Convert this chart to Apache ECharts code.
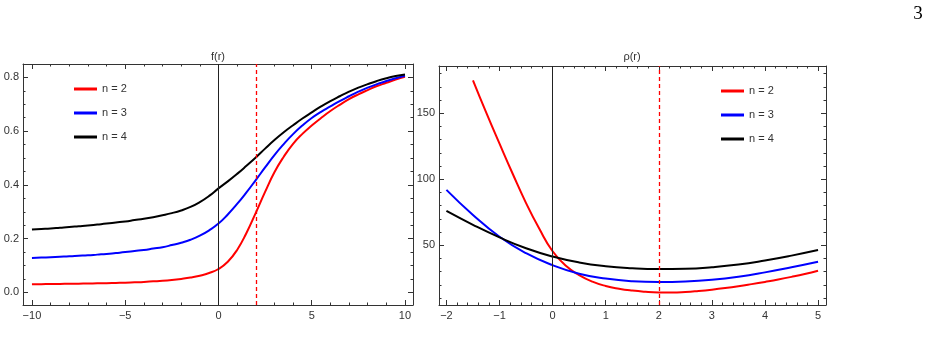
<!DOCTYPE html>
<html>
<head>
<meta charset="utf-8">
<script src="https://cdn.jsdelivr.net/npm/echarts@6/dist/echarts.min.js"></script>
<style>
  html, body { margin: 0; padding: 0; background: #fff; }
  #main { width: 930px; height: 341px; }
</style>
</head>
<body>
<div id="main"></div>
<script>
// left panel: f(r)
const fR = [-10, -9.5, -9, -8.5, -8, -7.5, -7, -6.5, -6, -5.5, -5, -4.5, -4, -3.5, -3, -2.5, -2, -1.5, -1, -0.5,
  0, 0.5, 1, 1.5, 2, 2.5, 3, 3.5, 4, 4.5, 5, 5.5, 6, 6.5, 7, 7.5, 8, 8.5, 9, 9.5, 10];
const fN2 = [0.030, 0.0305, 0.031, 0.0315, 0.032, 0.0325, 0.033, 0.0335, 0.034, 0.035, 0.036, 0.0375, 0.039, 0.041, 0.043, 0.046, 0.050, 0.055, 0.062, 0.072,
  0.087, 0.114, 0.158, 0.221, 0.296, 0.374, 0.447, 0.505, 0.553, 0.590, 0.621, 0.649, 0.675, 0.698, 0.719, 0.737, 0.753, 0.768, 0.780, 0.792, 0.802];
const fN3 = [0.128, 0.1295, 0.131, 0.1325, 0.134, 0.136, 0.138, 0.1405, 0.143, 0.1465, 0.150, 0.154, 0.158, 0.163, 0.168, 0.176, 0.185, 0.196, 0.211, 0.231,
  0.256, 0.290, 0.329, 0.372, 0.418, 0.465, 0.511, 0.552, 0.589, 0.621, 0.649, 0.672, 0.692, 0.712, 0.730, 0.747, 0.762, 0.775, 0.787, 0.797, 0.806];
const fN4 = [0.234, 0.236, 0.238, 0.2405, 0.243, 0.246, 0.249, 0.2525, 0.256, 0.260, 0.264, 0.269, 0.274, 0.280, 0.287, 0.295, 0.305, 0.318, 0.336, 0.359,
  0.387, 0.413, 0.441, 0.471, 0.502, 0.535, 0.567, 0.596, 0.622, 0.647, 0.670, 0.692, 0.712, 0.730, 0.747, 0.762, 0.775, 0.787, 0.797, 0.805, 0.811];

// right panel: rho(r)
const rhoR2 = [-1.5, -1.25, -1, -0.75, -0.5, -0.25, 0, 0.25, 0.5, 0.75, 1, 1.25, 1.5, 1.75, 2, 2.25, 2.5, 2.75, 3, 3.25, 3.5, 3.75, 4, 4.25, 4.5, 4.75, 5];
const rhoN2 = [175, 150.5, 127, 104, 82, 62.5, 45.5, 34.5, 27.5, 22.5, 19.2, 17.1, 15.7, 14.8, 14.3, 14.2, 14.6, 15.4, 16.4, 17.6, 19.0, 20.6, 22.3, 24.1, 26.1, 28.3, 30.8];
const rhoR = [-2, -1.5, -1, -0.5, 0, 0.5, 1, 1.5, 2, 2.5, 3, 3.5, 4, 4.5, 5];
const rhoN3 = [92, 73, 56.5, 44, 35, 28.5, 24.8, 22.8, 22.2, 22.6, 23.9, 26.2, 29.5, 33.4, 37.6];
const rhoN4 = [76, 65.5, 56, 47.8, 41.5, 37.0, 34.2, 32.7, 32.1, 32.3, 33.4, 35.4, 38.5, 42.2, 46.4];

const names = ["n = 2", "n = 3", "n = 4"];
const colors = ["#ff0000", "#0000ff", "#000000"];

// tick labels
const fXTicks = [-10, -5, 0, 5, 10];
const fYTicks = [0, 0.2, 0.4, 0.6, 0.8];
const rhoXTicks = [-2, -1, 0, 1, 2, 3, 4, 5];
const rhoYTicks = [50, 100, 150];

const vLine = 0;
const dashLine = 2;

function steps(a, b, s) {
  const out = [];
  for (let v = a; v <= b + 1e-9; v += s) out.push(+v.toFixed(4));
  return out;
}

const frameColor = "#333";
const labelStyle = { fontSize: 11, color: "#333", fontFamily: "Liberation Sans" };
const minus = (v) => String(v).replace("-", "\u2212");

function makeAxes(dim, grid, min, max, major, minor, fmt) {
  const sides = dim === "x" ? ["bottom", "top"] : ["left", "right"];
  const axes = [];
  sides.forEach((pos, s) => {
    axes.push({
      type: "value", gridIndex: grid, position: pos, min: min, max: max,
      axisLine: { show: true, onZero: false, lineStyle: { color: frameColor, width: 1 } },
      axisTick: { show: true, inside: true, length: 5, customValues: major, lineStyle: { color: frameColor } },
      axisLabel: s === 0
        ? Object.assign({ show: true, customValues: major, formatter: fmt, margin: dim === "x" ? 5 : 4 }, labelStyle)
        : { show: false },
      splitLine: { show: false }
    });
    axes.push({
      type: "value", gridIndex: grid, position: pos, min: min, max: max,
      axisLine: { show: false, onZero: false },
      axisTick: { show: true, inside: true, length: 2.5, customValues: minor, lineStyle: { color: frameColor } },
      axisLabel: { show: false },
      splitLine: { show: false }
    });
  });
  return axes;
}

const xAxes = [].concat(
  makeAxes("x", 0, -10.48, 10.43, fXTicks, steps(-10, 10, 1), minus),
  makeAxes("x", 1, -2.14, 5.15, rhoXTicks, steps(-2, 5, 0.2), minus)
);
const yAxes = [].concat(
  makeAxes("y", 0, -0.047, 0.85, fYTicks, steps(0, 0.8, 0.05), (v) => v.toFixed(1)),
  makeAxes("y", 1, 4.8, 185.8, rhoYTicks, steps(10, 180, 10), (v) => String(v))
);

function line(name, color, xs, ys, axis, withMarks) {
  const s = {
    name: name, type: "line", xAxisIndex: axis, yAxisIndex: axis,
    data: xs.map((x, i) => [x, ys[i]]),
    showSymbol: false, smooth: 0.5,
    lineStyle: { color: color, width: 2 }, itemStyle: { color: color }
  };
  if (withMarks) {
    s.markLine = {
      silent: true, symbol: "none", label: { show: false },
      data: [
        { xAxis: vLine, lineStyle: { color: "#222", type: "solid", width: 1 } },
        { xAxis: dashLine, lineStyle: { color: "#ff0000", type: [4, 3], width: 1.3 } }
      ]
    };
  }
  return s;
}

const legendBase = {
  orient: "vertical", data: names, icon: "rect", padding: 0,
  itemWidth: 23, itemHeight: 3, itemGap: 10,
  textStyle: { fontSize: 11, color: "#333", fontFamily: "Liberation Sans", lineHeight: 14 }
};

const chart = echarts.init(document.getElementById("main"), null, { renderer: "canvas" });
chart.setOption({
  animation: false,
  backgroundColor: "#fff",
  grid: [
    { left: 23, top: 64, width: 390, height: 241 },
    { left: 439, top: 66, width: 387, height: 239 }
  ],
  xAxis: xAxes,
  yAxis: yAxes,
  legend: [
    Object.assign({ left: 74, top: 82 }, legendBase),
    Object.assign({ left: 721, top: 84 }, legendBase)
  ],
  graphic: [
    { type: "text", style: { text: "f(r)", x: 218, y: 57, textAlign: "center", textVerticalAlign: "middle", font: "11px 'Liberation Sans'", fill: "#333" } },
    { type: "text", style: { text: "\u03c1(r)", x: 632, y: 57, textAlign: "center", textVerticalAlign: "middle", font: "11px 'Liberation Sans'", fill: "#333" } },
    { type: "text", style: { text: "3", x: 918, y: 14, textAlign: "center", textVerticalAlign: "middle", font: "19px 'Liberation Serif'", fill: "#000" } }
  ],
  series: [
    line(names[0], colors[0], fR, fN2, 0, true),
    line(names[1], colors[1], fR, fN3, 0, false),
    line(names[2], colors[2], fR, fN4, 0, false),
    line(names[0], colors[0], rhoR2, rhoN2, 4, true),
    line(names[1], colors[1], rhoR, rhoN3, 4, false),
    line(names[2], colors[2], rhoR, rhoN4, 4, false)
  ]
});
</script>
</body>
</html>
